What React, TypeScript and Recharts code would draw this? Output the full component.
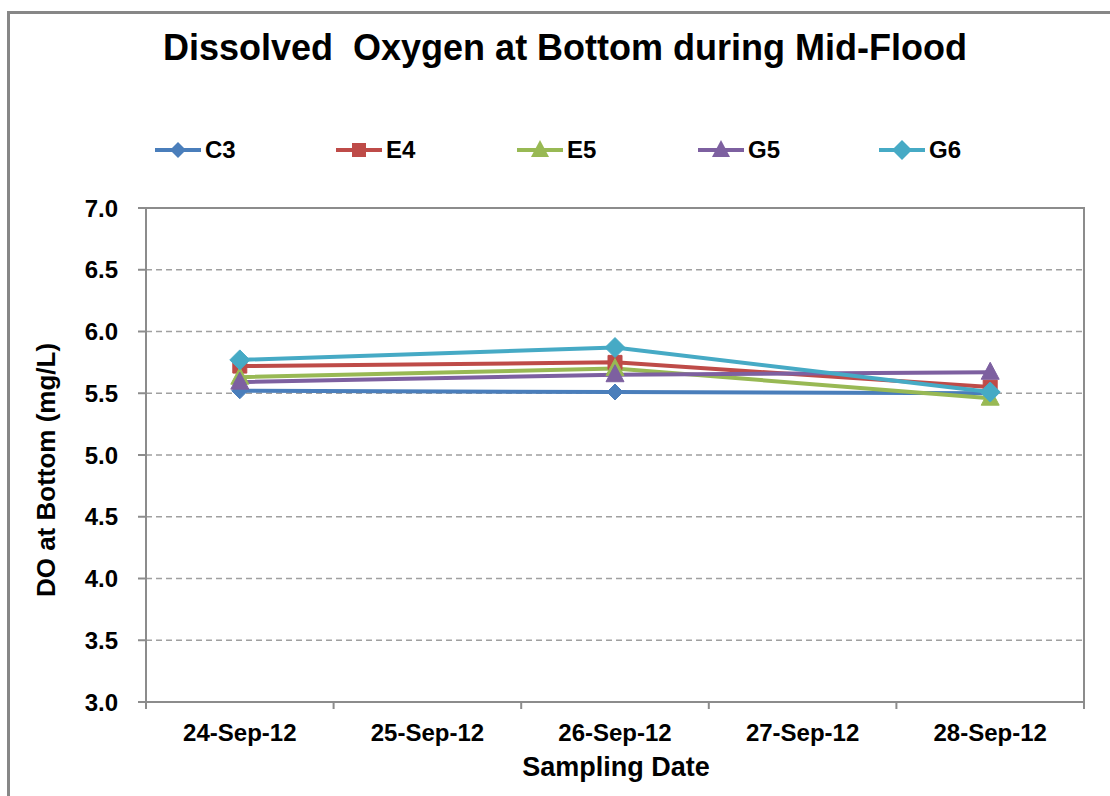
import React from 'react';
import { LineChart, Line, XAxis, YAxis, CartesianGrid, Legend, ReferenceArea } from 'recharts';

const categories = ['24-Sep-12', '25-Sep-12', '26-Sep-12', '27-Sep-12', '28-Sep-12'];
const seriesNames = ['C3', 'E4', 'E5', 'G5', 'G6'];
const c3Values = [5.52, null, 5.51, null, 5.5];
const e4Values = [5.72, null, 5.75, null, 5.55];
const e5Values = [5.63, null, 5.7, null, 5.46];
const g5Values = [5.59, null, 5.65, null, 5.67];
const g6Values = [5.77, null, 5.87, null, 5.51];
const yTicks = [3.0, 3.5, 4.0, 4.5, 5.0, 5.5, 6.0, 6.5, 7.0];

const colors = ['#4A7EBB', '#BE4B48', '#98B954', '#7D60A0', '#46AAC5'];
const markers = ['diamond', 'square', 'triangle', 'triangle', 'bigdiamond'];
const seriesValues = [c3Values, e4Values, e5Values, g5Values, g6Values];

const data = categories.map((date, i) => {
  const row: any = { date };
  seriesNames.forEach((n, s) => {
    row[n] = seriesValues[s][i];
  });
  return row;
});

const FONT = "'Liberation Sans', Arial, sans-serif";
const W = 1110;
const H = 796;
const PLOT_LEFT = 146;
const PLOT_RIGHT = 1084;
const BAND = (PLOT_RIGHT - PLOT_LEFT) / categories.length;

function markerPath(type: string, cx: number, cy: number) {
  switch (type) {
    case 'diamond':
      return `M${cx},${cy - 8}L${cx + 8},${cy}L${cx},${cy + 8}L${cx - 8},${cy}Z`;
    case 'bigdiamond':
      return `M${cx},${cy - 10}L${cx + 10},${cy}L${cx},${cy + 10}L${cx - 10},${cy}Z`;
    case 'square':
      return `M${cx - 7},${cy - 7}H${cx + 7}V${cy + 7}H${cx - 7}Z`;
    case 'triangle':
    default:
      return `M${cx},${cy - 10}L${cx + 9},${cy + 7}L${cx - 9},${cy + 7}Z`;
  }
}

const makeDot = (type: string, color: string) => (props: any) => {
  const { cx, cy, index } = props;
  if (cx == null || cy == null || props.value == null) return <g key={`e-${index}`} />;
  return <path key={`d-${index}`} d={markerPath(type, cx, cy)} fill={color} stroke={color} strokeWidth={1} />;
};

const LegendContent = () => (
  <div style={{ position: 'relative', width: W, height: 40 }}>
    {seriesNames.map((n, i) => {
      const x0 = 155 + i * 181;
      return (
        <div key={n} style={{ position: 'absolute', left: x0, top: 0, height: 40 }}>
          <svg width={48} height={40} style={{ position: 'absolute', left: 0, top: 0 }}>
            <line x1={0} y1={20} x2={46} y2={20} stroke={colors[i]} strokeWidth={4} />
            <path d={markerPath(markers[i], 23, 20)} fill={colors[i]} />
          </svg>
          <span
            style={{
              position: 'absolute',
              left: 50,
              top: 7,
              fontFamily: FONT,
              fontWeight: 'bold',
              fontSize: 24,
              lineHeight: '26px',
              color: '#000',
            }}
          >
            {n}
          </span>
        </div>
      );
    })}
  </div>
);

const XTick = (props: any) => {
  const { x, y, payload, index } = props;
  const left = x - BAND / 2;
  return (
    <g>
      <line x1={left} y1={y - 8} x2={left} y2={y - 1} stroke="#8C8C8C" strokeWidth={2} />
      {index === categories.length - 1 && (
        <line x1={x + BAND / 2} y1={y - 8} x2={x + BAND / 2} y2={y - 1} stroke="#8C8C8C" strokeWidth={2} />
      )}
      <text x={x} y={y + 31} textAnchor="middle" fontFamily={FONT} fontWeight="bold" fontSize={24} fill="#000">
        {payload.value}
      </text>
    </g>
  );
};

export default function App() {
  return (
    <div style={{ position: 'absolute', left: 0, top: 0, width: W, height: H, background: '#fff', overflow: 'hidden' }}>
      <div
        style={{
          position: 'absolute',
          left: 7,
          top: 11,
          width: W + 20,
          height: H + 20,
          borderTop: '3px solid #878787',
          borderLeft: '3px solid #878787',
          boxSizing: 'border-box',
        }}
      />
      <div
        style={{
          position: 'absolute',
          left: 0,
          top: 27,
          width: 1130,
          textAlign: 'center',
          fontFamily: FONT,
          fontWeight: 'bold',
          fontSize: 36,
          color: '#000',
          whiteSpace: 'pre',
        }}
      >
        {'Dissolved  Oxygen at Bottom during Mid-Flood'}
      </div>
      <div style={{ position: 'absolute', left: 0, top: 0 }}>
        <LineChart width={W} height={H} data={data} margin={{ top: 168, right: W - PLOT_RIGHT, bottom: 34, left: 0 }}>
          <Legend
            verticalAlign="top"
            content={<LegendContent />}
            wrapperStyle={{ position: 'absolute', top: 130, left: 0, width: W, height: 40 }}
          />
          <CartesianGrid vertical={false} stroke="#A0A0A0" strokeDasharray="6 4" strokeWidth={1.5} />
          <ReferenceArea y1={3} y2={7} fill="none" stroke="#8C8C8C" strokeWidth={2} ifOverflow="visible" />
          <XAxis
            dataKey="date"
            scale="band"
            type="category"
            height={60}
            axisLine={{ stroke: '#8C8C8C', strokeWidth: 2 }}
            tickLine={false}
            tick={<XTick />}
            interval={0}
            label={{
              value: 'Sampling Date',
              position: 'insideBottom',
              offset: 0,
              content: () => (
                <text x={616} y={776} textAnchor="middle" fontFamily={FONT} fontWeight="bold" fontSize={27} fill="#000">
                  Sampling Date
                </text>
              ),
            }}
          />
          <YAxis
            domain={[3, 7]}
            ticks={yTicks}
            width={PLOT_LEFT}
            interval={0}
            allowDataOverflow
            axisLine={{ stroke: '#8C8C8C', strokeWidth: 2 }}
            tickLine={{ stroke: '#8C8C8C', strokeWidth: 2 }}
            tickSize={8}
            tickMargin={20}
            tickFormatter={(v: number) => v.toFixed(1)}
            tick={{ fontFamily: FONT, fontWeight: 'bold', fontSize: 24, fill: '#000' }}
            label={{
              value: 'DO at Bottom (mg/L)',
              content: () => (
                <text
                  x={46}
                  y={470}
                  transform="rotate(-90 46 470)"
                  textAnchor="middle"
                  dominantBaseline="central"
                  fontFamily={FONT}
                  fontWeight="bold"
                  fontSize={26}
                  fill="#000"
                >
                  DO at Bottom (mg/L)
                </text>
              ),
            }}
          />
          {seriesNames.map((n, i) => (
            <Line
              key={n}
              dataKey={n}
              name={n}
              stroke={colors[i]}
              strokeWidth={4}
              connectNulls
              isAnimationActive={false}
              dot={makeDot(markers[i], colors[i])}
              activeDot={false}
            />
          ))}
        </LineChart>
      </div>
    </div>
  );
}
